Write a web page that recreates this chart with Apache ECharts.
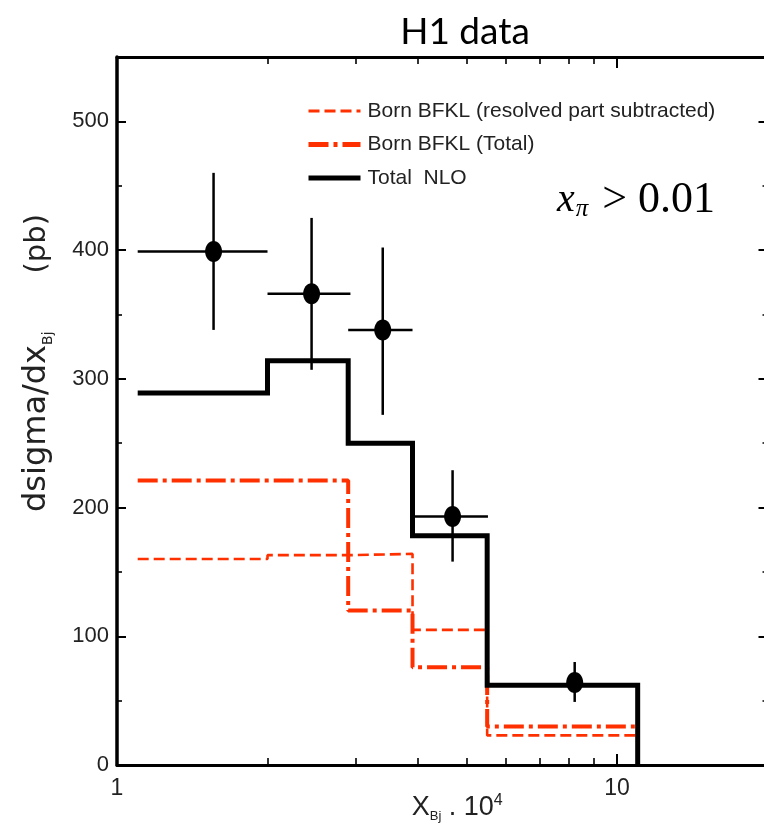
<!DOCTYPE html>
<html><head><meta charset="utf-8">
<script src="https://cdn.jsdelivr.net/npm/echarts@6/dist/echarts.min.js"></script>
<style>html,body{margin:0;padding:0;background:#fff}#c{width:764px;height:829px}</style>
</head><body><div id="c"></div>
<script>
// ---- data ----
const nloEdges = [1.1, 2.0, 2.9, 3.9, 5.5, 11.0];
const nloValues = [289, 314, 250, 178, 62];
const resolvedEdges = [1.1, 2.0, 2.9, 3.9, 5.5, 11.0];
const resolvedValues = [160, 163, 164, 105, 23];
const totalEdges = [1.1, 2.9, 3.9, 5.5, 11.0];
const totalValues = [221, 120, 76, 30];
const dataX = [1.56, 2.45, 3.40, 4.69, 8.23];
const dataXLow = [1.1, 2.0, 2.9, 3.94, 8.23];
const dataXHigh = [2.0, 2.93, 3.9, 5.52, 8.23];
const dataY = [399, 366, 338, 193, 64];
const dataYLow = [338, 307, 272, 158, 49];
const dataYHigh = [460, 425, 402, 229, 80];
const xMajorTicks = [1, 10];
const xMinorTicks = [2, 3, 4, 5, 6, 7, 8, 9];
const legendNames = ['Born BFKL (resolved part subtracted)', 'Born BFKL (Total)', 'Total  NLO'];

function histo(edges, values, closeToZero) {
  const pts = [];
  for (let i = 0; i < values.length; i++) {
    pts.push([edges[i], values[i]]);
    pts.push([edges[i + 1], values[i]]);
  }
  if (closeToZero) pts.push([edges[edges.length - 1], 0]);
  return pts;
}

const SANS = "'Liberation Sans',Arial,sans-serif";
const SERIF = "'Liberation Serif','Times New Roman',serif";
const RED = '#ff3000';
const XMAX = 20;

const chart = echarts.init(document.getElementById('c'), null, {renderer: 'canvas'});

const logAxisBase = {
  type: 'log', logBase: 10, min: 1, max: XMAX, gridIndex: 0,
  splitLine: {show: false}, minorTick: {show: false}, minorSplitLine: {show: false}
};
const minorXAxisBase = {
  type: 'value', min: 0, max: Math.log10(XMAX), gridIndex: 0,
  axisLine: {show: false, onZero: false}, axisLabel: {show: false}, splitLine: {show: false},
  axisTick: {show: true, inside: true, length: 7, lineStyle: {color: '#000', width: 1.6},
    customValues: xMinorTicks.map(v => Math.log10(v))}
};

const option = {
  animation: false,
  backgroundColor: '#fff',
  title: {
    text: 'H1 data', left: 460, top: 9, textAlign: 'center',
    textStyle: {fontFamily: 'Lato', fontWeight: 'normal', fontSize: 37, color: '#000'}
  },
  graphic: [{
    type: 'text', left: 557, top: 178,
    style: {
      text: '{x|x}{s|π}{r| > 0.01}',
      rich: {
        x: {fontFamily: SERIF, fontStyle: 'italic', fontSize: 40, fill: '#000'},
        s: {fontFamily: SERIF, fontStyle: 'italic', fontSize: 25, fill: '#000', verticalAlign: 'bottom', lineHeight: 26, padding: [0, 3, 0, 1]},
        r: {fontFamily: SERIF, fontSize: 44, fill: '#000'}
      }
    }
  }],
  legend: {
    orient: 'vertical', left: 301, top: 93,
    itemWidth: 52, itemHeight: 14, itemGap: 7.5,
    data: [
      {name: legendNames[0], lineStyle: {width: 3}},
      {name: legendNames[1], lineStyle: {width: 5}},
      {name: legendNames[2], lineStyle: {width: 5}}
    ],
    itemStyle: {opacity: 0},
    textStyle: {fontFamily: SANS, fontSize: 21, color: '#222', lineHeight: 26, padding: [0, 0, 0, 2]}
  },
  grid: {left: 117, top: 57, width: 650.5, height: 708, containLabel: false, outerBoundsMode: 'none'},
  xAxis: [
    Object.assign({}, logAxisBase, {
      position: 'bottom',
      axisLine: {show: true, onZero: false, lineStyle: {color: '#000', width: 3}},
      axisTick: {show: true, inside: true, length: 11, lineStyle: {color: '#000', width: 2}},
      axisLabel: {show: true, showMaxLabel: false, margin: 12, color: '#222', fontFamily: SANS, fontSize: 23,
        formatter: v => (xMajorTicks.indexOf(Math.round(v)) >= 0 ? String(Math.round(v)) : '')},
      name: '{a|X}{b|Bj}{a| . 10}{c|4}',
      nameLocation: 'middle', nameGap: 28, nameMoveOverlap: false,
      nameTextStyle: {
        padding: [0, 0, 0, 30],
        rich: {
          a: {fontFamily: SANS, fontSize: 27, color: '#222', lineHeight: 30},
          b: {fontFamily: SANS, fontSize: 13, color: '#222', verticalAlign: 'bottom', lineHeight: 14},
          c: {fontFamily: SANS, fontSize: 16, color: '#222', verticalAlign: 'top', lineHeight: 18}
        }
      }
    }),
    Object.assign({}, logAxisBase, {
      position: 'top',
      axisLine: {show: true, onZero: false, lineStyle: {color: '#000', width: 3}},
      axisTick: {show: true, inside: true, length: 11, lineStyle: {color: '#000', width: 2}},
      axisLabel: {show: false}
    }),
    Object.assign({}, minorXAxisBase, {position: 'bottom'}),
    Object.assign({}, minorXAxisBase, {position: 'top'})
  ],
  yAxis: [
    {
      type: 'value', min: 0, max: 550, interval: 100, position: 'left',
      splitLine: {show: false},
      axisLine: {show: true, onZero: false, lineStyle: {color: '#000', width: 3.5}},
      axisTick: {show: true, inside: true, length: 9, lineStyle: {color: '#000', width: 2}},
      minorTick: {show: true, splitNumber: 2, length: 5, lineStyle: {color: '#000', width: 1.6}},
      axisLabel: {show: true, showMaxLabel: false, margin: 8, color: '#222', fontFamily: SANS, fontSize: 22},
      name: '{a|dsigma/dx}{b|Bj}{c|(pb)}',
      nameLocation: 'middle', nameRotate: 90, nameGap: 62,
      nameTextStyle: {
        padding: [0, 0, 0, 96],
        rich: {
          a: {fontFamily: "'DejaVu Sans',sans-serif", fontSize: 32, color: '#222', lineHeight: 36},
          b: {fontFamily: "'DejaVu Sans',sans-serif", fontSize: 14, color: '#222', verticalAlign: 'bottom', lineHeight: 15},
          c: {fontFamily: "'DejaVu Sans',sans-serif", fontSize: 29, color: '#222', lineHeight: 36, padding: [0, 0, 0, 58]}
        }
      }
    },
    {
      type: 'value', min: 0, max: 550, interval: 100, position: 'right',
      splitLine: {show: false},
      axisLine: {show: true, onZero: false, lineStyle: {color: '#000', width: 2}},
      axisTick: {show: true, inside: true, length: 9, lineStyle: {color: '#000', width: 2}},
      minorTick: {show: true, splitNumber: 2, length: 5, lineStyle: {color: '#000', width: 1.6}},
      axisLabel: {show: false}
    }
  ],
  series: [
    {
      name: legendNames[0], type: 'line', xAxisIndex: 0, yAxisIndex: 0,
      data: histo(resolvedEdges, resolvedValues, false),
      symbol: 'none', z: 3,
      lineStyle: {color: RED, width: 2.6, type: [11, 5]},
      itemStyle: {color: RED}
    },
    {
      name: legendNames[1], type: 'line', xAxisIndex: 0, yAxisIndex: 0,
      data: histo(totalEdges, totalValues, false),
      symbol: 'none', z: 3,
      lineStyle: {color: RED, width: 4, type: [20, 5, 4, 5]},
      itemStyle: {color: RED}
    },
    {
      name: legendNames[2], type: 'line', xAxisIndex: 0, yAxisIndex: 0,
      data: histo(nloEdges, nloValues, true),
      symbol: 'none', z: 4,
      lineStyle: {color: '#000', width: 5, cap: 'butt', join: 'miter'},
      itemStyle: {color: '#000'}
    },
    {
      name: 'H1 data', type: 'custom', xAxisIndex: 0, yAxisIndex: 0, z: 6,
      data: dataX.map((x, i) => [x, dataY[i], dataXLow[i], dataXHigh[i], dataYLow[i], dataYHigh[i]]),
      encode: {x: [0, 2, 3], y: [1, 4, 5]},
      renderItem: function (params, api) {
        const c = api.coord([api.value(0), api.value(1)]);
        const xl = api.coord([api.value(2), api.value(1)]);
        const xh = api.coord([api.value(3), api.value(1)]);
        const yl = api.coord([api.value(0), api.value(4)]);
        const yh = api.coord([api.value(0), api.value(5)]);
        return {
          type: 'group',
          children: [
            {type: 'line', shape: {x1: xl[0], y1: xl[1], x2: xh[0], y2: xh[1]}, style: {stroke: '#000', lineWidth: 2.5}},
            {type: 'line', shape: {x1: yl[0], y1: yl[1], x2: yh[0], y2: yh[1]}, style: {stroke: '#000', lineWidth: 2.5}},
            {type: 'ellipse', shape: {cx: c[0], cy: c[1], rx: 8.5, ry: 10.5}, style: {fill: '#000'}}
          ]
        };
      }
    }
  ]
};
chart.setOption(option);
</script>
</body></html>
